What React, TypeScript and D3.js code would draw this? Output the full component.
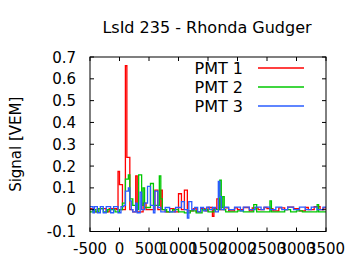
import React from "react";
import * as d3 from "d3";

const title = "LsId 235 - Rhonda Gudger";
const yLabel = "Signal [VEM]";
const seriesNames = ["PMT 1", "PMT 2", "PMT 3"];
const seriesColors = ["#ff0000", "#00c800", "#2a5cff"];

const xTickValues = [-500, 0, 500, 1000, 1500, 2000, 2500, 3000, 3500];
const xTickLabels = ["-500", "0", "500", "1000", "1500", "2000", "2500", "3000", "3500"];
const yTickValues = [-0.1, 0, 0.1, 0.2, 0.3, 0.4, 0.5, 0.6, 0.7];
const yTickLabels = ["-0.1", "0", "0.1", "0.2", "0.3", "0.4", "0.5", "0.6", "0.7"];

const pmt1Time = [-500, -425, -375, -225, -175, -50, -25, 0, 50, 100, 125, 175, 225, 275, 300, 400, 450, 600, 650, 700, 725, 775, 850, 925, 1000, 1050, 1100, 1150, 1250, 1300, 1375, 1450, 1500, 1575, 1600, 1650, 1700, 1775, 1850, 1950, 2000, 2100, 2200, 2250, 2350, 2450, 2500, 2600, 2700, 2800, 2850, 2950, 3050, 3150, 3200, 3300, 3400, 3450];
const pmt1Signal = [0.005, -0.01, 0.005, -0.01, 0.005, 0.0, 0.175, 0.115, 0.0, 0.66, 0.24, 0.0, -0.01, 0.155, -0.01, 0.03, 0.0, 0.09, 0.0, 0.09, 0.0, -0.01, 0.005, -0.01, 0.073, 0.0, 0.09, -0.005, 0.005, -0.01, 0.005, -0.005, 0.01, -0.03, 0.005, 0.05, 0.0, 0.008, -0.005, 0.008, 0.0, 0.01, -0.005, 0.008, 0.0, 0.01, 0.005, -0.005, 0.008, 0.0, 0.012, 0.005, -0.005, 0.01, 0.0, 0.014, 0.0, 0.008];

const pmt2Time = [-500, -450, -400, -350, -275, -200, -75, 0, 50, 100, 150, 175, 225, 300, 325, 375, 400, 425, 525, 575, 675, 700, 725, 800, 900, 1000, 1100, 1200, 1300, 1400, 1500, 1600, 1700, 1725, 1750, 1775, 1800, 2000, 2100, 2275, 2325, 2550, 2575, 2800, 2900, 3000, 3100, 3350, 3375];
const pmt2Signal = [-0.01, 0.0, -0.01, 0.005, -0.01, 0.0, -0.01, 0.0, 0.03, 0.14, 0.16, 0.05, 0.02, 0.0, 0.16, 0.02, 0.1, 0.01, 0.12, 0.02, 0.155, 0.05, 0.0, -0.01, 0.0, -0.01, -0.015, -0.005, -0.015, 0.0, -0.01, 0.0, 0.135, 0.01, 0.06, 0.0, -0.01, -0.005, -0.01, 0.023, -0.01, 0.04, -0.01, 0.0, -0.01, -0.005, -0.01, 0.023, -0.01];

const pmt3Time = [-500, -450, -425, -375, -325, -275, -225, -150, -100, -25, 25, 75, 100, 150, 175, 200, 225, 275, 300, 350, 375, 425, 475, 525, 575, 600, 650, 700, 775, 850, 950, 1050, 1100, 1150, 1175, 1225, 1275, 1325, 1375, 1425, 1475, 1525, 1575, 1625, 1675, 1700, 1725, 1775, 1850, 1950, 2050, 2100, 2200, 2300, 2400, 2450, 2550, 2650, 2750, 2850, 2950, 3050, 3150, 3250, 3350, 3450];
const pmt3Signal = [0.014, -0.014, 0.014, -0.014, 0.014, -0.014, 0.014, -0.014, 0.014, -0.014, 0.014, 0.02, 0.085, 0.1, 0.04, 0.0, -0.01, 0.03, -0.014, 0.08, 0.0, 0.03, 0.107, 0.02, -0.014, 0.085, 0.01, -0.01, 0.01, -0.01, 0.01, 0.037, 0.0, -0.038, 0.037, 0.0, 0.01, -0.01, 0.01, -0.005, 0.012, 0.0, 0.01, -0.01, 0.13, 0.06, 0.0, 0.012, 0.0, 0.012, -0.005, 0.012, 0.0, 0.012, 0.0, 0.012, 0.0, 0.012, 0.0, 0.012, 0.0, 0.012, 0.0, 0.012, 0.0, 0.012];

const xEnd = 3500;

export default function App() {
  const W = 360, H = 270;
  const L = 90, R = 326, T = 57, B = 231.5;
  const x = d3.scaleLinear().domain([-500, 3500]).range([L, R]);
  const y = d3.scaleLinear().domain([-0.1, 0.7]).range([B, T]);
  const font = "'DejaVu Sans', sans-serif";
  const tick = 4;

  const series = [
    { t: pmt1Time, v: pmt1Signal },
    { t: pmt2Time, v: pmt2Signal },
    { t: pmt3Time, v: pmt3Signal },
  ];
  const line = d3
    .line<[number, number]>()
    .x((d) => x(d[0]))
    .y((d) => y(d[1]))
    .curve(d3.curveStepAfter);

  const paths = series.map((s) => {
    const pts: [number, number][] = s.t.map((t, i) => [t, s.v[i]]);
    pts.push([xEnd, s.v[s.v.length - 1]]);
    return line(pts) || "";
  });

  return (
    <svg width={W} height={H} style={{ position: "absolute", left: 0, top: 0, background: "#fff" }}>
      <rect x={0} y={0} width={W} height={H} fill="#fff" />
      <text x={207} y={33} textAnchor="middle" fontFamily={font} fontSize={16}>{title}</text>
      <g>
        {paths.map((d, i) => (
          <path key={i} d={d} fill="none" stroke={seriesColors[i]} strokeWidth={1.3} />
        ))}
      </g>
      <rect x={L} y={T} width={R - L} height={B - T} fill="none" stroke="#000" strokeWidth={1} />
      {xTickValues.map((v, i) => (
        <g key={"x" + i}>
          <line x1={x(v)} x2={x(v)} y1={B} y2={B - tick} stroke="#000" />
          <line x1={x(v)} x2={x(v)} y1={T} y2={T + tick} stroke="#000" />
          <text x={x(v)} y={254} textAnchor="middle" fontFamily={font} fontSize={15}>{xTickLabels[i]}</text>
        </g>
      ))}
      {yTickValues.map((v, i) => (
        <g key={"y" + i}>
          <line x1={L} x2={L + tick} y1={y(v)} y2={y(v)} stroke="#000" />
          <line x1={R} x2={R - tick} y1={y(v)} y2={y(v)} stroke="#000" />
          <text x={76} y={y(v) + 5.5} textAnchor="end" fontFamily={font} fontSize={15}>{yTickLabels[i]}</text>
        </g>
      ))}
      <text transform={`translate(21,${(T + B) / 2}) rotate(-90)`} textAnchor="middle" fontFamily={font} fontSize={15}>{yLabel}</text>
      {seriesNames.map((n, i) => {
        const cy = 68 + i * 19;
        return (
          <g key={"l" + i}>
            <text x={243} y={cy + 5.5} textAnchor="end" fontFamily={font} fontSize={16}>{n}</text>
            <line x1={258} x2={304} y1={cy} y2={cy} stroke={seriesColors[i]} strokeWidth={1.3} />
          </g>
        );
      })}
    </svg>
  );
}
